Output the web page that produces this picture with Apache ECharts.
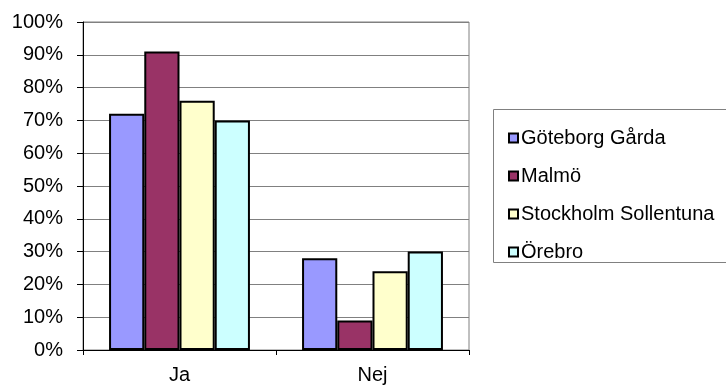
<!DOCTYPE html>
<html>
<head>
<meta charset="utf-8">
<script src="https://cdn.jsdelivr.net/npm/echarts@6/dist/echarts.min.js"></script>
<style>
html,body{margin:0;padding:0;background:#fff;}
#c{width:726px;height:385px;}
</style>
</head>
<body>
<div id="c"></div>
<script>
const categories = ['Ja', 'Nej'];
const seriesNames = ['Göteborg Gårda', 'Malmö', 'Stockholm Sollentuna', 'Örebro'];
const goteborgValues = [72, 28];
const malmoValues = [91, 9];
const stockholmValues = [76, 24];
const orebroValues = [70, 30];
const seriesColors = ['#9999FF', '#993366', '#FFFFCC', '#CCFFFF'];
const yTicks = { min: 0, max: 100, interval: 10 };

const allValues = [goteborgValues, malmoValues, stockholmValues, orebroValues];
const font = 'Liberation Sans, Arial, sans-serif';

const chart = echarts.init(document.getElementById('c'), null, { renderer: 'canvas' });
chart.setOption({
  animation: false,
  backgroundColor: '#ffffff',
  grid: {
    left: 83, right: 257, top: 22, bottom: 35,
    show: true, borderColor: '#808080', borderWidth: 1,
    containLabel: false, outerBoundsMode: 'none'
  },
  graphic: [{
    type: 'rect',
    shape: { x: 493.5, y: 109.5, width: 260, height: 153 },
    style: { fill: 'none', stroke: '#808080', lineWidth: 1 },
    silent: true
  }],
  legend: {
    orient: 'vertical',
    left: 493, top: 109,
    padding: [19, 5, 1, 15],
    itemGap: 18,
    itemWidth: 9, itemHeight: 9,
    icon: 'rect',
    borderWidth: 0,
    textStyle: { fontFamily: font, fontSize: 20, color: '#000', lineHeight: 20, padding: [0, 0, 0, -2] },
    data: seriesNames
  },
  xAxis: {
    type: 'category',
    data: categories,
    axisLine: { lineStyle: { color: '#000', width: 1 } },
    axisTick: { show: true, length: 5, lineStyle: { color: '#000' } },
    axisLabel: { fontFamily: font, fontSize: 20, color: '#000', margin: 15 },
    splitLine: { show: false }
  },
  yAxis: {
    type: 'value',
    min: yTicks.min, max: yTicks.max, interval: yTicks.interval,
    axisLine: { show: true, lineStyle: { color: '#000', width: 1 } },
    axisTick: { show: true, length: 6, lineStyle: { color: '#000' } },
    axisLabel: { fontFamily: font, fontSize: 20, color: '#000', margin: 20, formatter: '{value}%' },
    splitLine: { show: true, lineStyle: { color: '#808080', width: 1 } }
  },
  series: seriesNames.map((name, i) => ({
    name: name,
    type: 'bar',
    data: allValues[i],
    barGap: '0%',
    barCategoryGap: '27%',
    itemStyle: { color: seriesColors[i], borderColor: '#000', borderWidth: 2 }
  }))
});
</script>
</body>
</html>
